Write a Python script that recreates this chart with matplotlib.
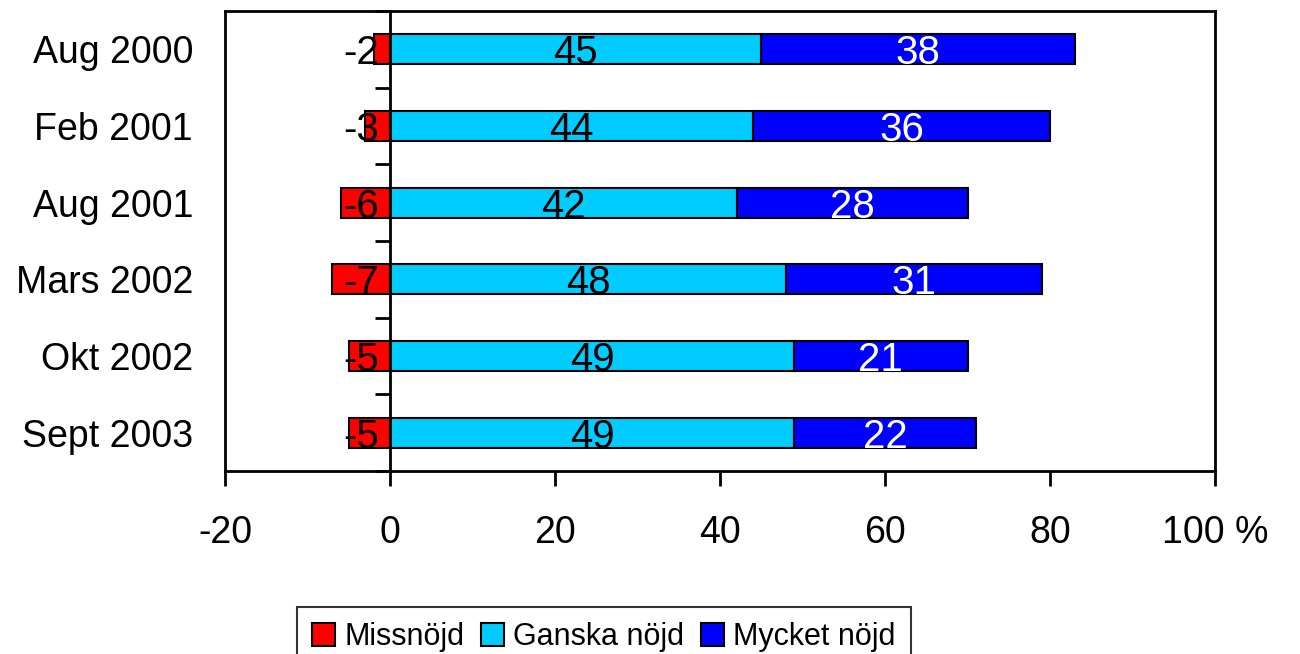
import matplotlib
matplotlib.use("Agg")
import matplotlib.pyplot as plt
from matplotlib.patches import Patch
import numpy as np

plt.rcParams['font.family'] = ['Liberation Sans', 'DejaVu Sans']

categories = ["Aug 2000", "Feb 2001", "Aug 2001", "Mars 2002", "Okt 2002", "Sept 2003"]
missnojd = [-2, -3, -6, -7, -5, -5]
ganska = [45, 44, 42, 48, 49, 49]
mycket = [38, 36, 28, 31, 21, 22]
series_names = ["Missnöjd", "Ganska nöjd", "Mycket nöjd"]
colors = ["#FF0000", "#00CCFF", "#0000FF"]
xticks = [-20, 0, 20, 40, 60, 80, 100]
xticklabels = ["-20", "0", "20", "40", "60", "80", "100 %"]

W, H = 1300, 654
fig = plt.figure(figsize=(W / 100, H / 100), dpi=100)
ax = fig.add_axes([225 / W, 1 - 471 / H, (1215 - 225) / W, (471 - 11) / H])

y = np.arange(len(categories))
bh = 0.39
ax.barh(y, missnojd, height=bh, color=colors[0], edgecolor="black", linewidth=1.5, zorder=3)
ax.barh(y, ganska, height=bh, color=colors[1], edgecolor="black", linewidth=1.5, zorder=3)
ax.barh(y, mycket, left=ganska, height=bh, color=colors[2], edgecolor="black", linewidth=1.5, zorder=3)

fs = 27
bfs = 29
for i in range(len(categories)):
    ax.annotate(f"{missnojd[i]}", xy=(0, y[i]), xytext=(-11, 0), textcoords="offset pixels",
                ha="right", va="center_baseline", fontsize=bfs, color="black", zorder=5)
    ax.text(ganska[i] / 2, y[i], f"{ganska[i]}", ha="center", va="center_baseline", fontsize=bfs,
            color="black", zorder=5)
    ax.text(ganska[i] + mycket[i] / 2, y[i], f"{mycket[i]}", ha="center", va="center_baseline",
            fontsize=bfs, color="white", zorder=5)

ax.set_xlim(-20, 100)
ax.set_ylim(len(categories) - 0.5, -0.5)
ax.set_xticks(xticks)
ax.set_xticklabels(xticklabels)
ax.set_yticks(y)
ax.set_yticklabels(categories)
ax.tick_params(axis="y", length=0, pad=23, labelsize=fs)
ax.tick_params(axis="x", direction="out", length=11, width=2, pad=21, labelsize=fs)
for s in ax.spines.values():
    s.set_linewidth(2)

# y axis line at x = 0 with tick marks between categories
ax2 = ax.twinx()
ax2.set_ylim(ax.get_ylim())
ax2.yaxis.set_ticks_position("left")
ax2.spines["left"].set_position(("data", 0))
ax2.spines["left"].set_linewidth(2)
for k in ["right", "top", "bottom"]:
    ax2.spines[k].set_visible(False)
ax2.set_yticks(np.arange(-0.5, len(categories), 1.0))
ax2.set_yticklabels([])
ax2.tick_params(axis="y", direction="out", length=11, width=2)
ax2.set_zorder(ax.get_zorder() + 1)
ax2.patch.set_visible(False)

handles = [Patch(facecolor=c, edgecolor="black", linewidth=1.5) for c in colors]
leg = fig.legend(handles, series_names, loc="upper center", ncol=3,
                 bbox_to_anchor=(604 / W, 1 - 607 / H), borderaxespad=0, fontsize=22,
                 frameon=True, fancybox=False, edgecolor="black", handlelength=0.75,
                 handleheight=0.75, handletextpad=0.3, columnspacing=0.55, borderpad=0.5)
leg.get_frame().set_linewidth(1.5)

fig.savefig("out.png", dpi=100)
